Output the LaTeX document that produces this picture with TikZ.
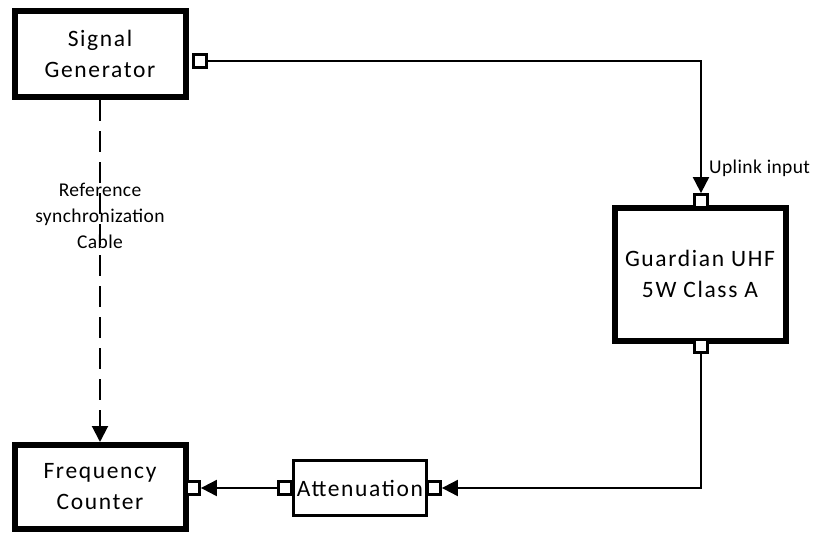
\documentclass[tikz,border=0pt]{standalone}
\usepackage{fontspec}
\setmainfont{Carlito}
\newfontfamily\boxfont[LetterSpace=7]{Carlito}
\newfontfamily\lblfont[LetterSpace=2]{Carlito}
\usetikzlibrary{arrows.meta}
\tikzset{
  bigbox/.style={draw, line width=6pt, fill=white, inner sep=0pt, align=center, font=\boxfont\fontsize{23.5}{31}\selectfont},
  attbox/.style={draw, line width=2.8pt, fill=white, inner sep=0pt, align=center, font=\boxfont\fontsize{23.5}{31}\selectfont},
  port/.style={draw, line width=2.8pt, fill=white, minimum size=13pt, inner sep=0pt},
  wire/.style={line width=2pt},
  tip/.style={-{Triangle[length=16pt,width=16pt]}},
  lbl/.style={font=\lblfont\fontsize{19.5}{26}\selectfont, align=center, inner sep=1pt}
}
\begin{document}
\begin{tikzpicture}[x=1pt,y=-1pt]
\useasboundingbox (0,0) rectangle (817,533);
% boxes
\node[bigbox, minimum width=171pt, minimum height=86pt] (sg) at (100,54) {Signal\\Generator};
\node[bigbox, minimum width=171pt, minimum height=133pt] (gu) at (700,274) {Guardian UHF\\5W Class A};
\node[bigbox, minimum width=171pt, minimum height=84pt] (fc) at (100,487) {Frequency\\Counter};
\node[attbox, minimum width=133pt, minimum height=55pt] (at) at (360,488) {Attenuation};
% ports
\node[port] (sgp) at (200,61) {};
\node[port] (gin) at (701,201) {};
\node[port] (gout) at (701,346) {};
\node[port] (fcp) at (193,488) {};
\node[port] (atl) at (285,488) {};
\node[port] (atr) at (434,488) {};
% connectors
\coordinate (c1) at (701,61);
\coordinate (c2) at (701,488);
\draw[wire, tip] (sgp.east) -- (c1) -- (gin.north);
\draw[wire, tip] (gout.south) -- (c2) -- (atr.east);
\draw[wire, tip] (atl.west) -- (fcp.east);
\draw[wire, tip, dash pattern=on 21pt off 10pt] (sg.south) -- (fc.north);
% labels
\node[lbl] (ref) at (100,216) {Reference\\synchronization\\Cable};
\node[lbl, anchor=west] (up) at (708,168) {Uplink input};
\end{tikzpicture}
\end{document}
